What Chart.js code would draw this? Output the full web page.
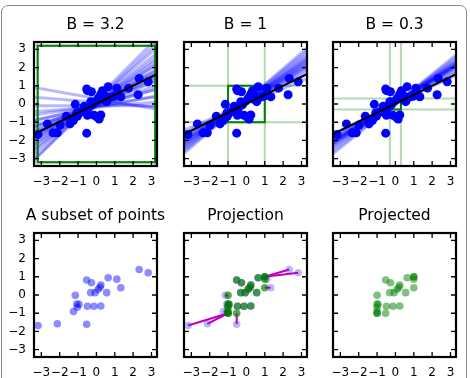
<!DOCTYPE html>
<html>
<head>
<meta charset="utf-8">
<script src="https://cdn.jsdelivr.net/npm/chart.js@4"></script>
<style>
  body { margin: 0; background: #fff; }
  #fig { position: relative; width: 470px; height: 378px; overflow: hidden; }
  #fig canvas { position: absolute; }
  #frame { position: absolute; left: 1px; top: 5px; width: 464px; height: 400px;
           border: 1.5px solid #8a8a8a; border-radius: 7px; }
</style>
</head>
<body>
<div id="fig">
  <div id="frame"></div>
  <canvas id="c1"></canvas><canvas id="c2"></canvas><canvas id="c3"></canvas>
  <canvas id="c4"></canvas><canvas id="c5"></canvas><canvas id="c6"></canvas>
</div>
<script>
// axis setup
const tickVals = [-3, -2, -1, 0, 1, 2, 3];
const xMin = -3.4, xMax = 3.3, yMin = -3.4, yMax = 3.4;

// box sizes of the top row
const boxSizes = [3.2, 1, 0.3];
const topTitles = ['B = 3.2', 'B = 1', 'B = 0.3'];
const bottomTitles = ['A subset of points', 'Projection', 'Projected'];

// the subset of points (bottom row)
const subsetX = [-3.18, -2.13, -0.53, -1.25, -1.15, -1.07, -0.95, -1.04, -0.53, -0.27, -0.49, -0.13, 0.24, -0.31, -0.07, 0.09, 0.24, 0.56, 0.64, 1.11, 1.33, 2.33, 2.82, 0.2];
const subsetY = [-1.67, -1.58, -1.60, -0.91, -0.02, -0.49, -0.51, -0.67, 0.82, 0.67, -0.62, -0.62, -0.60, 0.13, 0.13, 0.31, 0.55, 0.13, 0.95, 0.87, 0.40, 1.40, 1.22, 0.42];
// remaining points only shown in the top row
const extraX = [-2.67, -2.36, -1.98, -1.64, -1.44, -0.85, -0.67, -0.45, -0.22, 0.05, 0.15, 0.42, 0.45, 0.75, 0.96, 1.75, 2.27, 0.33, -0.49];
const extraY = [-1.09, -1.58, -1.15, -0.67, -1.09, -0.42, -0.13, -0.27, -0.05, -0.73, -0.82, 0.49, 0.24, 0.36, 0.42, 0.87, 0.51, 0.73, 0.73];

// black fitted line
const fitSlope = 0.49, fitIntercept = 0.02;

// faint resampled fits per panel
const fan1Slopes = [-0.18, -0.08, 0.0, 0.08, 0.15, 0.2, 0.26, 0.3, 0.34, 0.38, 0.42, 0.45, 0.48, 0.5, 0.52, 0.55, 0.58, 0.62, 0.66, 0.7, 0.75, 0.8, 0.88, 0.95, 1.0];
const fan1Intercepts = [0.3, 0.1, -0.1, -0.15, -0.1, -0.2, -0.05, -0.15, -0.1, 0.0, -0.05, 0.0, -0.05, 0.05, 0.0, 0.05, 0.0, 0.1, 0.05, 0.1, 0.1, 0.15, 0.2, 0.2, 0.3];
const fan2Slopes = [0.42, 0.48, 0.52, 0.55, 0.58, 0.6, 0.62, 0.64, 0.66, 0.68, 0.7, 0.72, 0.75, 0.78, 0.82, 0.86];
const fan2Intercepts = [0.0, 0.05, 0.05, 0.1, 0.08, 0.1, 0.12, 0.1, 0.12, 0.15, 0.12, 0.15, 0.15, 0.18, 0.2, 0.22];
const fan3Slopes = [0.48, 0.52, 0.55, 0.58, 0.6, 0.61, 0.62, 0.63, 0.64, 0.65, 0.66, 0.68, 0.7, 0.73, 0.77, 0.81];
const fan3Intercepts = [0.0, 0.02, 0.03, 0.04, 0.05, 0.05, 0.06, 0.05, 0.06, 0.06, 0.05, 0.06, 0.05, 0.04, 0.03, 0.02];
const fans = [[fan1Slopes, fan1Intercepts], [fan2Slopes, fan2Intercepts], [fan3Slopes, fan3Intercepts]];

const FONT = "'DejaVu Sans', sans-serif";
Chart.defaults.font.family = FONT;
Chart.defaults.color = '#000';

const colLeft = [34, 184, 333];
const rowTop = [42, 233];
const W = 123, H = 124;
const padL = 34, padT = 42, padR = 34, padB = 24;

const minus = v => v < 0 ? '\u2212' + Math.abs(v) : String(v);

// spines and inward ticks, drawn over the data
const framePlugin = {
  id: 'frame',
  afterDraw(chart) {
    const { ctx, chartArea: a, scales: { x, y } } = chart;
    ctx.save();
    ctx.strokeStyle = '#000';
    ctx.lineWidth = 1.3;
    tickVals.forEach(v => {
      const px = x.getPixelForValue(v), py = y.getPixelForValue(v);
      ctx.beginPath();
      ctx.moveTo(px, a.bottom); ctx.lineTo(px, a.bottom - 5);
      ctx.moveTo(px, a.top); ctx.lineTo(px, a.top + 5);
      ctx.moveTo(a.left, py); ctx.lineTo(a.left + 5, py);
      ctx.moveTo(a.right, py); ctx.lineTo(a.right - 5, py);
      ctx.stroke();
    });
    ctx.lineWidth = 2.2;
    ctx.strokeRect(a.left, a.top, a.right - a.left, a.bottom - a.top);
    ctx.restore();
  }
};

function seg(x1, y1, x2, y2, color, width, order) {
  return {
    type: 'line', data: [{ x: x1, y: y1 }, { x: x2, y: y2 }],
    borderColor: color, borderWidth: width, pointRadius: 0, fill: false,
    clip: 0, order: order
  };
}

function pts(xs, ys, color, r, order) {
  return {
    type: 'scatter', data: xs.map((v, i) => ({ x: v, y: ys[i] })),
    backgroundColor: color, borderWidth: 0, pointRadius: r, pointHoverRadius: r,
    clip: 0, order: order
  };
}

function makeChart(id, col, row, title, datasets) {
  const cv = document.getElementById(id);
  cv.width = padL + W + padR;
  cv.height = padT + H + padB;
  cv.style.left = (colLeft[col] - padL) + 'px';
  cv.style.top = (rowTop[row] - padT) + 'px';
  const fixedTicks = s => { s.ticks = tickVals.map(v => ({ value: v })); };
  return new Chart(cv, {
    type: 'scatter',
    data: { datasets: datasets },
    plugins: [framePlugin],
    options: {
      responsive: false,
      animation: false,
      devicePixelRatio: 1,
      layout: { padding: 0 },
      plugins: {
        legend: { display: false },
        tooltip: { enabled: false },
        title: {
          display: true, text: title,
          font: { size: 15.5, weight: 'normal', family: FONT }, color: '#000',
          padding: { top: 16, bottom: 42 - 16 - 18.6 }
        }
      },
      scales: {
        x: {
          type: 'linear', min: xMin, max: xMax,
          grid: { display: false, drawTicks: false }, border: { display: false },
          afterBuildTicks: fixedTicks,
          afterFit: s => { s.height = padB; },
          ticks: { padding: 9, maxRotation: 0, autoSkip: false,
                   font: { size: 12, family: FONT }, callback: minus }
        },
        y: {
          type: 'linear', min: yMin, max: yMax,
          grid: { display: false, drawTicks: false }, border: { display: false },
          afterBuildTicks: fixedTicks,
          afterFit: s => { s.width = padL; },
          ticks: { display: col === 0, padding: 8, autoSkip: false,
                   font: { size: 12, family: FONT }, callback: minus }
        },
        // empty right-hand axis keeps the plot centred under the title
        yr: {
          type: 'linear', position: 'right', min: yMin, max: yMax,
          grid: { display: false, drawTicks: false }, border: { display: false },
          ticks: { display: false },
          afterFit: s => { s.width = padR; }
        }
      }
    }
  });
}

const allX = subsetX.concat(extraX);
const allY = subsetY.concat(extraY);

// top row: all points, fit line, resampled fits, box
for (let c = 0; c < 3; c++) {
  const B = boxSizes[c];
  const ds = [];
  ds.push(seg(xMin, fitIntercept + fitSlope * xMin, xMax, fitIntercept + fitSlope * xMax, '#000', 2, 0));
  ds.push(pts(allX, allY, '#0000ff', 4.5, 1));
  ds.push({
    type: 'line', data: [{ x: -B, y: -B }, { x: B, y: -B }, { x: B, y: B }, { x: -B, y: B }, { x: -B, y: -B }],
    borderColor: '#007f00', borderWidth: 2, pointRadius: 0, fill: false, clip: 0, order: 2
  });
  const [sl, ic] = fans[c];
  sl.forEach((b, i) => {
    ds.push(seg(xMin, ic[i] + b * xMin, xMax, ic[i] + b * xMax, 'rgba(0,0,255,0.28)', 3, 3));
  });
  [-B, B].forEach(v => {
    ds.push(seg(xMin, v, xMax, v, 'rgba(0,128,0,0.3)', 2, 4));
    ds.push(seg(v, yMin, v, yMax, 'rgba(0,128,0,0.3)', 2, 4));
  });
  makeChart('c' + (c + 1), c, 0, topTitles[c], ds);
}

// projection of the subset onto the B = 1 box
const projB = boxSizes[1];
const clipB = v => Math.max(-projB, Math.min(projB, v));
const projX = subsetX.map(clipB);
const projY = subsetY.map(clipB);

makeChart('c4', 0, 1, bottomTitles[0], [pts(subsetX, subsetY, 'rgba(0,0,255,0.45)', 3.8, 0)]);

const ds5 = [pts(projX, projY, 'rgba(0,120,0,0.65)', 3.8, 0)];
subsetX.forEach((v, i) => {
  if (v !== projX[i] || subsetY[i] !== projY[i]) {
    ds5.push(seg(v, subsetY[i], projX[i], projY[i], '#bf00bf', 2, 1));
  }
});
ds5.push(pts(subsetX, subsetY, 'rgba(0,0,255,0.28)', 3.8, 2));
makeChart('c5', 1, 1, bottomTitles[1], ds5);

makeChart('c6', 2, 1, bottomTitles[2], [pts(projX, projY, 'rgba(0,128,0,0.5)', 3.8, 0)]);
</script>
</body>
</html>
